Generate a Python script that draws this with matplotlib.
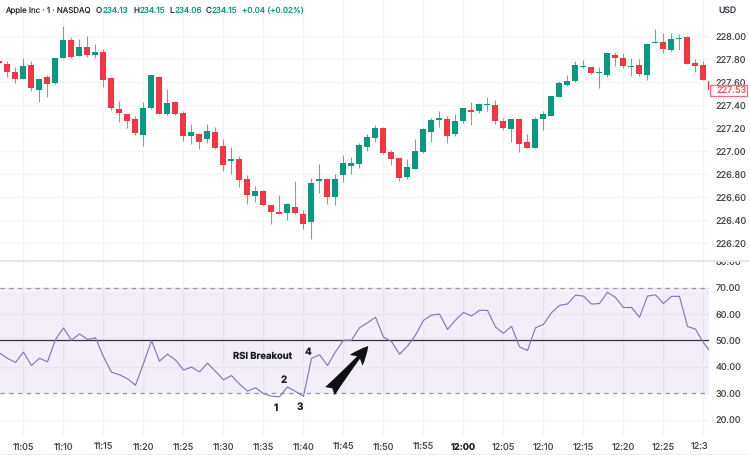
import numpy as np
import matplotlib
matplotlib.use("Agg")
import matplotlib.pyplot as plt
from matplotlib.patches import Rectangle, FancyArrowPatch
from matplotlib.lines import Line2D
from matplotlib.transforms import Bbox

plt.rcParams["font.family"] = ["Inter", "DejaVu Sans"]
plt.rcParams["text.hinting"] = "none"

# one candle per minute, first one is 11:02
opens = [227.780, 227.756, 227.687, 227.629, 227.748, 227.527, 227.646, 227.588, 227.809, 227.968,
         227.829, 227.907, 227.838, 227.858, 227.637, 227.368, 227.318, 227.275, 227.139, 227.371,
         227.646, 227.318, 227.426, 227.327, 227.127, 227.147, 227.101, 227.165, 227.046, 226.915,
         226.927, 226.756, 226.605, 226.654, 226.527, 226.469, 226.463, 226.515, 226.448, 226.379,
         226.738, 226.759, 226.596, 226.788, 226.866, 226.886, 227.037, 227.115, 227.200, 226.988,
         226.936, 226.776, 226.846, 226.988, 227.165, 227.269, 227.278, 227.147, 227.258, 227.356,
         227.347, 227.397, 227.397, 227.258, 227.188, 227.278, 227.075, 227.028, 227.278, 227.307,
         227.469, 227.577, 227.608, 227.733, 227.727, 227.675, 227.658, 227.838, 227.809, 227.730,
         227.751, 227.658, 227.939, 227.948, 227.878, 227.977, 227.991, 227.768, 227.751, 227.608]
highs = [227.783, 227.785, 227.727, 227.809, 227.785, 227.635, 227.658, 227.808, 228.087, 227.988,
         227.971, 228.000, 227.930, 227.884, 227.643, 227.437, 227.320, 227.304, 227.426, 227.660,
         227.649, 227.539, 227.432, 227.347, 227.234, 227.153, 227.237, 227.208, 227.101, 227.037,
         226.956, 226.788, 226.695, 226.657, 226.530, 226.620, 226.544, 226.736, 226.486, 226.767,
         226.886, 226.765, 226.799, 226.962, 226.944, 227.066, 227.147, 227.226, 227.205, 227.008,
         226.939, 226.930, 227.101, 227.197, 227.287, 227.347, 227.307, 227.321, 227.376, 227.426,
         227.417, 227.469, 227.443, 227.287, 227.281, 227.281, 227.144, 227.295, 227.345, 227.481,
         227.608, 227.658, 227.782, 227.788, 227.733, 227.727, 227.851, 227.858, 227.849, 227.806,
         227.797, 227.936, 228.058, 228.029, 228.029, 228.017, 227.997, 227.797, 227.785, 227.610]
lows = [227.762, 227.643, 227.594, 227.623, 227.519, 227.429, 227.469, 227.586, 227.807, 227.811,
        227.826, 227.820, 227.811, 227.559, 227.353, 227.252, 227.202, 227.139, 227.046, 227.368,
        227.318, 227.316, 227.316, 227.089, 227.060, 227.020, 227.069, 227.020, 226.828, 226.799,
        226.689, 226.541, 226.559, 226.518, 226.367, 226.452, 226.399, 226.454, 226.318, 226.237,
        226.637, 226.538, 226.530, 226.730, 226.796, 226.849, 226.997, 227.078, 226.977, 226.875,
        226.741, 226.756, 226.844, 226.986, 227.081, 227.208, 227.069, 227.133, 227.240, 227.229,
        227.330, 227.350, 227.234, 227.182, 227.081, 226.991, 227.026, 227.026, 227.179, 227.304,
        227.466, 227.562, 227.600, 227.719, 227.667, 227.550, 227.643, 227.742, 227.719, 227.649,
        227.649, 227.617, 227.936, 227.852, 227.867, 227.881, 227.754, 227.687, 227.615, 227.528]
closes = [227.768, 227.690, 227.629, 227.739, 227.550, 227.629, 227.580, 227.806, 227.968, 227.814,
          227.907, 227.838, 227.858, 227.617, 227.376, 227.327, 227.258, 227.153, 227.376, 227.658,
          227.318, 227.417, 227.318, 227.127, 227.165, 227.078, 227.176, 227.026, 226.878, 226.930,
          226.747, 226.620, 226.649, 226.527, 226.466, 226.454, 226.538, 226.457, 226.364, 226.718,
          226.756, 226.602, 226.756, 226.895, 226.895, 227.049, 227.118, 227.200, 226.979, 226.927,
          226.767, 226.860, 226.997, 227.188, 227.269, 227.287, 227.130, 227.258, 227.371, 227.339,
          227.405, 227.408, 227.258, 227.200, 227.278, 227.060, 227.028, 227.278, 227.318, 227.478,
          227.588, 227.608, 227.751, 227.742, 227.681, 227.687, 227.849, 227.809, 227.739, 227.739,
          227.669, 227.930, 227.948, 227.887, 227.977, 227.983, 227.759, 227.736, 227.617, 227.530]
rsi_values = [45.3, 43.2, 41.7, 45.6, 40.5, 43.3, 41.9, 50.4, 54.7, 50.1,
              52.5, 50.4, 51.0, 43.8, 38.0, 37.0, 35.5, 33.1, 41.3, 49.9,
              42.2, 44.8, 42.6, 38.8, 39.9, 38.1, 41.4, 38.3, 35.1, 36.7,
              33.5, 30.8, 32.1, 29.9, 28.9, 28.7, 32.4, 30.7, 28.9, 43.2,
              44.6, 40.5, 45.7, 50.1, 50.1, 54.8, 56.7, 58.8, 51.3, 49.6,
              44.8, 47.9, 52.0, 57.6, 59.6, 60.0, 54.2, 57.7, 60.6, 59.3,
              61.4, 61.4, 55.1, 52.7, 55.4, 47.6, 46.2, 54.8, 56.1, 60.5,
              63.3, 63.8, 67.2, 66.8, 63.8, 64.0, 68.3, 66.3, 62.5, 62.5,
              58.8, 66.8, 67.3, 64.0, 66.7, 66.7, 55.3, 54.3, 49.1, 45.3]

time_ticks = [3, 8, 13, 18, 23, 28, 33, 38, 43, 48, 53, 58, 63, 68, 73, 78, 83, 88]
time_labels = ["11:05", "11:10", "11:15", "11:20", "11:25", "11:30", "11:35", "11:40", "11:45",
               "11:50", "11:55", "12:00", "12:05", "12:10", "12:15", "12:20", "12:25", ""]
price_ticks = [226.2, 226.4, 226.6, 226.8, 227.0, 227.2, 227.4, 227.6, 227.8, 228.0]
rsi_ticks = [20, 30, 40, 50, 60, 70, 80]

GREEN = "#089981"
RED = "#F23645"
GRID = "#f3f4f6"
LABEL = "#4a4b52"
W, H = 750, 455


def fx(x):
    return x / W


def fy(y):
    return 1 - y / H


fig = plt.figure(figsize=(7.5, 4.55), dpi=100, facecolor="white")
ax = fig.add_axes([0, fy(260), fx(709), 260 / H])
ax2 = fig.add_axes([0, fy(435), fx(709), (435 - 261) / H])

x = np.arange(len(opens))
o = np.array(opens)
c = np.array(closes)
colors = [GREEN if b >= a else RED for a, b in zip(opens, closes)]

# candles
ax.vlines(x, lows, highs, colors=colors, linewidth=0.8, alpha=0.7, zorder=2)
ax.bar(x, np.abs(c - o), bottom=np.minimum(o, c), width=0.75, color=colors, linewidth=0, zorder=3)
ax.set_xlim(0.0625, 88.69)
ax.set_ylim(226.052, 228.313)

# rsi pane
ax2.axhspan(30, 70, color="#7E57C2", alpha=0.09, linewidth=0, zorder=1)
ax2.axhline(70, color="#9a9aa2", linewidth=0.9, dashes=(3.5, 3.5), zorder=2)
ax2.axhline(30, color="#9a9aa2", linewidth=0.9, dashes=(3.5, 3.5), zorder=2)
ax2.axhline(50, color="#35304a", linewidth=0.9, zorder=3)
ax2.plot(x, rsi_values, color="#8279ba", linewidth=0.85, zorder=4)
ax2.set_xlim(0.0625, 88.69)
ax2.set_ylim(14.2, 80.1)

for a, ticks in [(ax, price_ticks), (ax2, rsi_ticks)]:
    a.set_facecolor("none")
    a.set_yticks(ticks)
    a.set_yticklabels(["{:.2f}".format(t) for t in ticks])
    a.yaxis.tick_right()
    a.set_xticks(time_ticks)
    a.grid(True, color=GRID, linewidth=1.0)
    a.set_axisbelow(True)
    a.tick_params(length=0, labelsize=6.6, labelcolor=LABEL, pad=5)
    for s in a.spines.values():
        s.set_visible(False)

ax.set_xticklabels([])
ax2.set_xticklabels(time_labels)
ax2.tick_params(axis="x", pad=6)
for lab in ax2.get_xticklabels():
    if lab.get_text() == "12:00":
        lab.set_fontweight("bold")
        lab.set_color("#222222")

# axis label cut off by the screenshot edge
fig.text(fx(700), fy(446), "12:3", fontsize=6.6, color=LABEL, ha="center", va="center")

# the 80.00 label is cut by the pane separator
lab80 = ax2.get_yticklabels()[-1]
lab80.set_clip_box(Bbox([[700, 0], [750, H - 261]]))
lab80.set_clip_on(True)

# separator and outer border
fig.add_artist(Line2D([0, 1], [fy(260.5)] * 2, color="#e6e7ea", linewidth=1.4))
fig.add_artist(Line2D([0, 1], [fy(454.5)] * 2, color="#9b9b9f", linewidth=1.0))

# header
fig.text(fx(5), fy(10.5), "Apple Inc · 1 · NASDAQ", fontsize=5.7, color="#2a2e39", va="center")
for xp, s, col in [(96, "O", "#2a2e39"), (103, "234.13", GREEN), (133, "H", "#2a2e39"), (139.5, "234.15", GREEN),
                   (169.5, "L", "#2a2e39"), (174.5, "234.06", GREEN), (206, "C", "#2a2e39"), (212, "234.15", GREEN),
                   (242.5, "+0.04 (+0.02%)", GREEN)]:
    fig.text(fx(xp), fy(10.5), s, fontsize=5.8, color=col, va="center")
fig.text(fx(718), fy(11), "USD", fontsize=6.2, color="#2a2e39", va="center")

# last price tag
fig.add_artist(Rectangle((fx(710), fy(96)), 36.5 / W, 11 / H, transform=fig.transFigure,
                         facecolor="white", edgecolor="#f2707a", linewidth=0.9, zorder=5))
fig.text(fx(716), fy(90.5), "227.53", fontsize=6.6, color="#f0505c", va="center", zorder=6)

# hand drawn notes on the rsi pane
fig.text(fx(263), fy(356), "RSI Breakout", fontsize=6.8, fontweight="bold", color="#1c1c22", ha="center", va="center")
for xp, yp, s in [(276, 408, "1"), (284, 380, "2"), (300, 407, "3"), (308, 352, "4")]:
    fig.text(fx(xp), fy(yp), s, fontsize=7.2, fontweight="bold", color="#1c1c22", ha="center", va="center")
ax2.add_patch(FancyArrowPatch((41.3, 30.8), (46.1, 47.9),
                              arrowstyle="fancy,head_length=0.9,head_width=0.8,tail_width=0.6",
                              mutation_scale=15, color="#101014", linewidth=0, shrinkA=0, shrinkB=0, zorder=6))

fig.savefig("out.png", dpi=100)
